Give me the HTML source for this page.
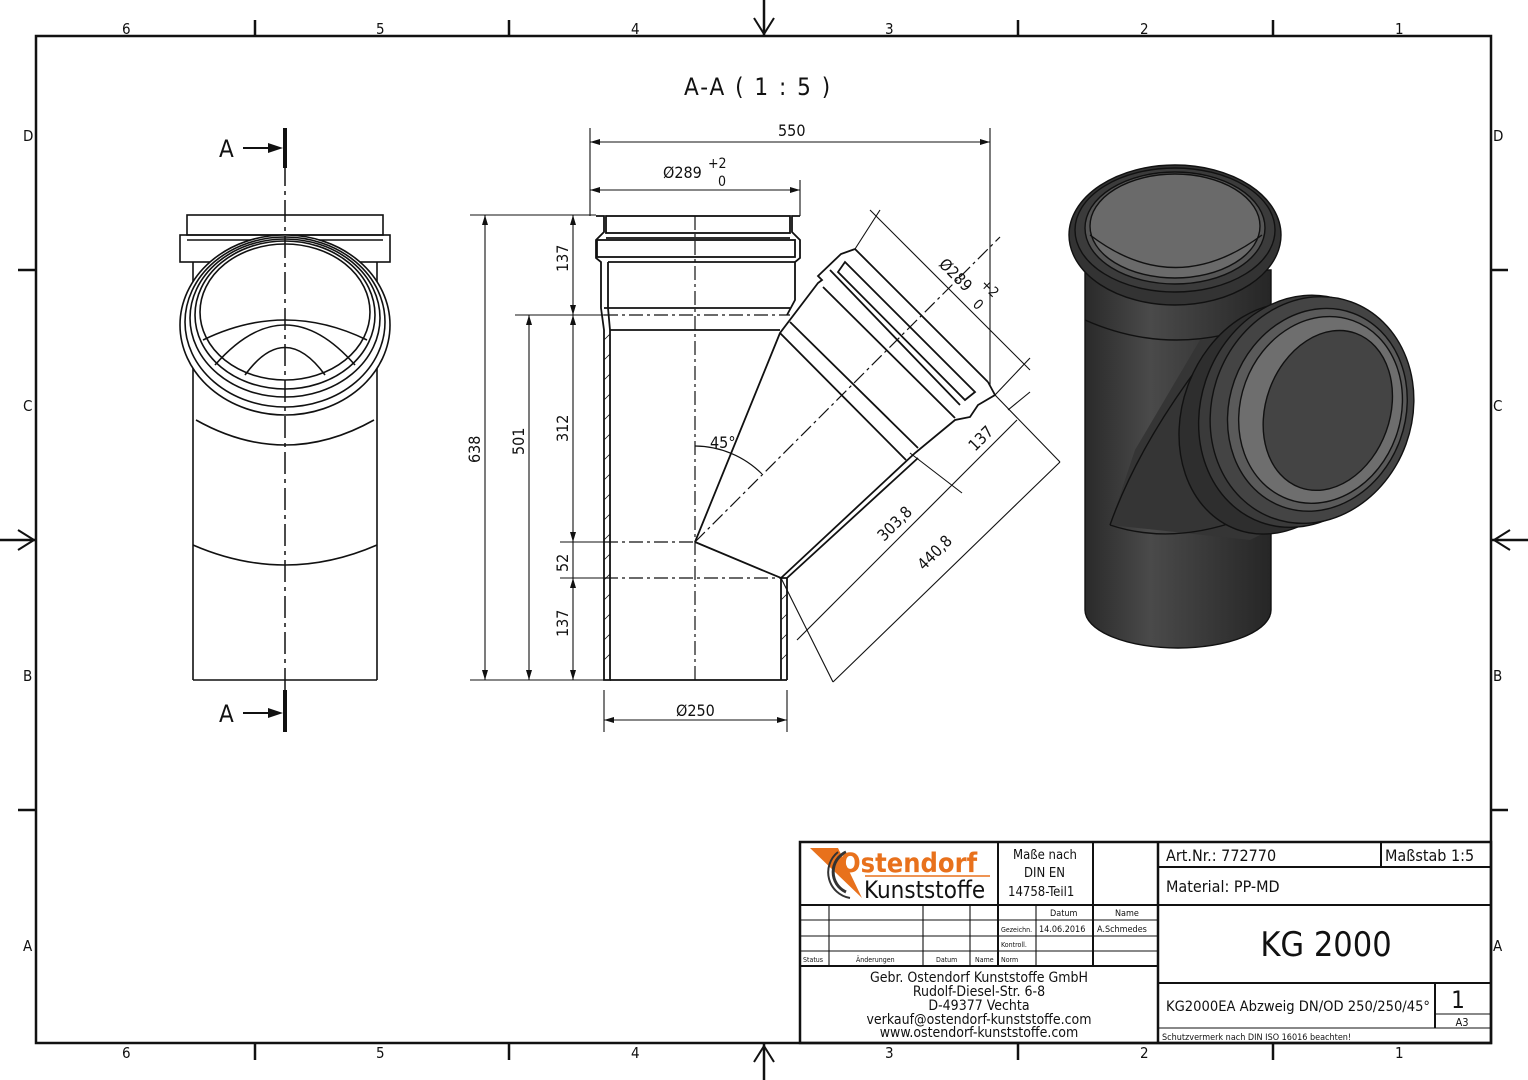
<!DOCTYPE html>
<html><head><meta charset="utf-8"><style>
html,body{margin:0;padding:0;background:#fff}
svg{display:block}
text{font-family:"Liberation Sans Narrow","DejaVu Sans Condensed","Liberation Sans",sans-serif;fill:#111}
</style></head><body>
<svg width="1528" height="1080" viewBox="0 0 1528 1080" xmlns="http://www.w3.org/2000/svg">
<defs>
<linearGradient id="g1" x1="0" x2="1" y1="0" y2="0"><stop offset="0" stop-color="#2a2a2a"/><stop offset="0.35" stop-color="#4a4a4a"/><stop offset="1" stop-color="#262626"/></linearGradient>
</defs>
<rect x="0" y="0" width="1528" height="1080" fill="#fff"/>
<rect x="36" y="36" width="1455" height="1007" fill="none" stroke="#111" stroke-width="2.5"/>
<g stroke="#111" stroke-width="2.5">
<line x1="255" y1="20" x2="255" y2="36"/><line x1="509" y1="20" x2="509" y2="36"/><line x1="1018" y1="20" x2="1018" y2="36"/><line x1="1273" y1="20" x2="1273" y2="36"/>
<line x1="255" y1="1043" x2="255" y2="1060"/><line x1="509" y1="1043" x2="509" y2="1060"/><line x1="1018" y1="1043" x2="1018" y2="1060"/><line x1="1273" y1="1043" x2="1273" y2="1060"/>
<line x1="18" y1="270" x2="36" y2="270"/><line x1="18" y1="810" x2="36" y2="810"/>
<line x1="1491" y1="270" x2="1508" y2="270"/><line x1="1491" y1="810" x2="1508" y2="810"/>
<line x1="764" y1="0" x2="764" y2="36"/><line x1="764" y1="1043" x2="764" y2="1080"/>
<line x1="0" y1="540" x2="36" y2="540"/><line x1="1491" y1="540" x2="1528" y2="540"/>
</g>
<g fill="none" stroke="#111" stroke-width="2">
<path d="M754 18 L764 34 L774 18"/><path d="M754 1062 L764 1046 L774 1062"/>
<path d="M18 530 L34 540 L18 550"/><path d="M1510 530 L1494 540 L1510 550"/>
</g>
<g font-size="15">
<text x="122" y="34">6</text><text x="376" y="34">5</text><text x="631" y="34">4</text><text x="885" y="34">3</text><text x="1140" y="34">2</text><text x="1395" y="34">1</text>
<text x="122" y="1058">6</text><text x="376" y="1058">5</text><text x="631" y="1058">4</text><text x="885" y="1058">3</text><text x="1140" y="1058">2</text><text x="1395" y="1058">1</text>
<text x="23" y="141">D</text><text x="23" y="411">C</text><text x="23" y="681">B</text><text x="23" y="951">A</text>
<text x="1493" y="141">D</text><text x="1493" y="411">C</text><text x="1493" y="681">B</text><text x="1493" y="951">A</text>
</g>
<text x="684" y="95" font-size="24" letter-spacing="2">A-A ( 1 : 5 )</text>

<g fill="none" stroke="#111" stroke-width="1.6">
<rect x="187" y="215" width="196" height="20"/>
<rect x="180" y="235" width="210" height="27"/>
<line x1="187" y1="240" x2="383" y2="240"/>
<line x1="193" y1="262" x2="193" y2="680"/><line x1="377" y1="262" x2="377" y2="680"/>
<line x1="193" y1="680" x2="377" y2="680"/>
<path d="M193 545 Q285 585 377 545"/>
<path d="M196 420 Q285 470 374 420"/>
<ellipse cx="285" cy="325" rx="105" ry="90" fill="#fff"/>
<ellipse cx="285" cy="322" rx="100" ry="85"/>
<ellipse cx="285" cy="318" rx="95" ry="79"/>
<ellipse cx="285" cy="315" rx="90" ry="74"/>
<ellipse cx="285" cy="312" rx="85" ry="68"/>
<path d="M203 340 Q285 300 367 340"/>
<path d="M215 365 Q285 285 355 365"/>
<path d="M245 375 Q285 320 325 375"/>
</g>
<line x1="285" y1="128" x2="285" y2="732" stroke="#111" stroke-width="1.5" stroke-dasharray="22,5,4,5"/>
<g stroke="#111" stroke-width="4"><line x1="285" y1="128" x2="285" y2="168"/><line x1="285" y1="690" x2="285" y2="732"/></g>
<g stroke="#111" stroke-width="2"><line x1="243" y1="148" x2="272" y2="148"/><line x1="243" y1="713" x2="272" y2="713"/></g>
<path d="M283 148 L268 143 L268 153Z M283 713 L268 708 L268 718Z" fill="#111"/>
<text x="219" y="157" font-size="24">A</text><text x="219" y="722" font-size="24">A</text>

<g fill="none" stroke="#111" stroke-width="1.8">
<path d="M596 216 L604 216 L604 232 L596 240 L596 258 L601 262 L601 308 L604 330 L604 680 L610 680 L610 330 L608 308 L608 262"/>
<path d="M800 216 L792 216 L792 232 L800 240 L800 258 L795 262 L795 300 L787 315"/>
<rect x="606" y="216" width="184" height="17"/>
<rect x="597" y="240" width="198" height="17"/>
<line x1="606" y1="238" x2="790" y2="238"/>
<line x1="608" y1="262" x2="795" y2="262"/>
<line x1="604" y1="308" x2="790" y2="308"/>
<line x1="610" y1="330" x2="780" y2="330"/>
<line x1="610" y1="680" x2="787" y2="680"/>
<path d="M781 680 L781 578 L787 578 L787 680"/>
<path d="M695 542 L780 333 L818 283 L822 280 L818 276 L841 254 L855 249"/>
<path d="M695 542 L781 578 L915 453 L955 420 L970 417 L978 405 L995 395 L988 382"/>
<path d="M787 578 L918 458"/>
<path d="M855 249 L988 382"/>
<path d="M845 262 L975 392 L965 400 L838 272 Z"/>
<line x1="830" y1="270" x2="960" y2="405"/>
<line x1="823" y1="287" x2="955" y2="418"/>
<line x1="780" y1="333" x2="906" y2="460"/>
<line x1="790" y1="322" x2="918" y2="448"/>
</g>
<g stroke="#111" stroke-width="1.2" stroke-dasharray="14,4,3,4" fill="none">
<line x1="695" y1="216" x2="695" y2="680"/>
<line x1="695" y1="542" x2="1000" y2="237"/>
<line x1="604" y1="542" x2="695" y2="542"/>
<line x1="604" y1="578" x2="781" y2="578"/>
<line x1="604" y1="315" x2="790" y2="315"/>
</g>
<g stroke="#111" stroke-width="0.8">
<path d="M604 340 l6 -6 M604 360 l6 -6 M604 380 l6 -6 M604 400 l6 -6 M604 420 l6 -6 M604 440 l6 -6 M604 460 l6 -6 M604 480 l6 -6 M604 500 l6 -6 M604 520 l6 -6 M604 540 l6 -6 M604 560 l6 -6 M604 580 l6 -6 M604 600 l6 -6 M604 620 l6 -6 M604 640 l6 -6 M604 660 l6 -6 M781 600 l6 -6 M781 620 l6 -6 M781 640 l6 -6 M781 660 l6 -6"/>
</g>
<path d="M695 446 A96 96 0 0 1 762 474" fill="none" stroke="#111" stroke-width="1.2"/>
<text x="710" y="448" font-size="16">45°</text>
<g stroke="#111" stroke-width="1.1" fill="none">
<line x1="590" y1="128" x2="590" y2="216"/><line x1="990" y1="128" x2="990" y2="385"/>
<line x1="590" y1="142" x2="990" y2="142"/>
<line x1="800" y1="180" x2="800" y2="216"/>
<line x1="590" y1="190" x2="800" y2="190"/>
<line x1="470" y1="215" x2="596" y2="215"/><line x1="470" y1="680" x2="604" y2="680"/>
<line x1="485" y1="215" x2="485" y2="680"/>
<line x1="515" y1="315" x2="604" y2="315"/>
<line x1="529" y1="315" x2="529" y2="680"/>
<line x1="573" y1="215" x2="573" y2="680"/>
<line x1="560" y1="542" x2="604" y2="542"/><line x1="560" y1="578" x2="604" y2="578"/>
<line x1="604" y1="690" x2="604" y2="732"/><line x1="787" y1="690" x2="787" y2="732"/>
<line x1="604" y1="720" x2="787" y2="720"/>
<line x1="870" y1="210" x2="1030" y2="370"/>
<line x1="855" y1="249" x2="880" y2="210"/>
<line x1="995" y1="395" x2="1030" y2="358"/>
<line x1="1060" y1="462" x2="833" y2="682"/>
<line x1="1060" y1="462" x2="995" y2="395"/>
<line x1="833" y1="682" x2="781" y2="578"/>
<line x1="1017" y1="420" x2="797" y2="640"/>
<line x1="910" y1="453" x2="962" y2="493"/>
<line x1="1008" y1="410" x2="1030" y2="392"/>
</g>
<g fill="#111">
<path d="M590 142 l10 -3 v6z M990 142 l-10 -3 v6z M590 190 l10 -3 v6z M800 190 l-10 -3 v6z"/>
<path d="M485 215 l-3 10 h6z M485 680 l-3 -10 h6z M529 315 l-3 10 h6z M529 680 l-3 -10 h6z"/>
<path d="M573 215 l-3 10 h6z M573 315 l-3 -10 h6z M573 315 l-3 10 h6z M573 542 l-3 -10 h6z M573 578 l-3 10 h6z M573 680 l-3 -10 h6z"/>
<path d="M604 720 l10 -3 v6z M787 720 l-10 -3 v6z"/>
</g>
<g font-size="16">
<text x="778" y="136">550</text>
<text x="663" y="178">Ø289</text><text x="708" y="168" font-size="14">+2</text><text x="718" y="186" font-size="14">0</text>
<text x="676" y="716">Ø250</text>
<text transform="translate(480,463) rotate(-90)">638</text>
<text transform="translate(524,455) rotate(-90)">501</text>
<text transform="translate(568,272) rotate(-90)">137</text>
<text transform="translate(568,442) rotate(-90)">312</text>
<text transform="translate(568,572) rotate(-90)">52</text>
<text transform="translate(568,637) rotate(-90)">137</text>
<text transform="translate(938,265) rotate(45)">Ø289</text>
<text transform="translate(980,285) rotate(45)" font-size="14">+2</text>
<text transform="translate(972,305) rotate(45)" font-size="14">0</text>
<text transform="translate(975,452) rotate(-45)">137</text>
<text transform="translate(884,542) rotate(-45)">303,8</text>
<text transform="translate(924,571) rotate(-45)">440,8</text>
</g>

<g stroke="#111" stroke-width="1.4">
<path d="M1085 270 L1085 610 A93 38 0 0 0 1271 610 L1271 270 Z" fill="url(#g1)"/>
<path d="M1135 450 L1200 340 L1300 330 L1330 500 L1250 540 L1110 525 Z" fill="#353535" stroke="none"/>
<path d="M1110 525 Q1140 440 1215 345" fill="none"/>
<path d="M1110 525 Q1170 545 1240 520" fill="none"/>
<ellipse cx="1175" cy="235" rx="106" ry="70" fill="#333"/>
<ellipse cx="1175" cy="230" rx="100" ry="62" fill="#3b3b3b"/>
<ellipse cx="1175" cy="228" rx="90" ry="56" fill="#555"/>
<ellipse cx="1175" cy="226" rx="85" ry="52" fill="#6a6a6a"/>
<path d="M1090 235 Q1175 300 1262 235" fill="none"/>
<path d="M1085 320 Q1175 360 1271 320" fill="none"/>
<g transform="translate(1312,410) rotate(20)">
<ellipse cx="-30" cy="20" rx="95" ry="118" fill="#2e2e2e"/>
<ellipse cx="-10" cy="5" rx="100" ry="118" fill="#3a3a3a"/>
<ellipse cx="0" cy="0" rx="100" ry="115" fill="#444"/>
<ellipse cx="5" cy="-2" rx="88" ry="103" fill="#5a5a5a"/>
<ellipse cx="8" cy="-3" rx="80" ry="95" fill="#6e6e6e"/>
<ellipse cx="15" cy="-5" rx="62" ry="82" fill="#444"/>
</g>
</g>

<g fill="none" stroke="#111">
<rect x="800" y="842" width="691" height="201" stroke-width="2.5"/>
<line x1="1158" y1="842" x2="1158" y2="1043" stroke-width="2.5"/>
<line x1="800" y1="905" x2="1158" y2="905" stroke-width="2"/>
<line x1="800" y1="966" x2="1158" y2="966" stroke-width="2"/>
<g stroke-width="1.1">
<line x1="800" y1="920" x2="1158" y2="920"/><line x1="800" y1="936" x2="1158" y2="936"/><line x1="800" y1="951" x2="1158" y2="951"/>
<line x1="829" y1="905" x2="829" y2="966"/><line x1="923" y1="905" x2="923" y2="966"/><line x1="970" y1="905" x2="970" y2="966"/>
<line x1="1036" y1="905" x2="1036" y2="966"/>
<line x1="1158" y1="1028" x2="1491" y2="1028"/>
<line x1="1435" y1="1014" x2="1491" y2="1014"/>
</g>
<g stroke-width="2">
<line x1="998" y1="842" x2="998" y2="966"/><line x1="1093" y1="842" x2="1093" y2="966"/>
<line x1="1158" y1="867" x2="1491" y2="867"/><line x1="1158" y1="905" x2="1491" y2="905"/><line x1="1158" y1="983" x2="1491" y2="983"/>
<line x1="1381" y1="842" x2="1381" y2="867"/><line x1="1435" y1="983" x2="1435" y2="1028"/>
</g>
</g>
<path d="M810 848 L838 848 L862 898 Z" fill="#e8711c"/>
<path d="M846 852 A22 22 0 0 0 846 892" fill="none" stroke="#333" stroke-width="3"/>
<path d="M838 852 A26 26 0 0 0 850 898" fill="none" stroke="#333" stroke-width="2"/>
<text x="840" y="872" font-size="27" font-weight="bold" style="fill:#e8711c">Ostendorf</text>
<line x1="865" y1="876" x2="990" y2="876" stroke="#e8711c" stroke-width="1.5"/>
<text x="864" y="898" font-size="24">Kunststoffe</text>
<g font-size="13">
<text x="1013" y="859">Maße nach</text><text x="1024" y="877">DIN EN</text><text x="1008" y="896">14758-Teil1</text>
</g>
<g font-size="9">
<text x="1050" y="916">Datum</text><text x="1115" y="916">Name</text>
<text x="1001" y="932" font-size="7">Gezeichn.</text><text x="1039" y="932">14.06.2016</text><text x="1097" y="932">A.Schmedes</text>
<text x="1001" y="947" font-size="7">Kontroll.</text>
<text x="803" y="962" font-size="7">Status</text><text x="856" y="962" font-size="7">Änderungen</text><text x="936" y="962" font-size="7">Datum</text><text x="975" y="962" font-size="7">Name</text><text x="1001" y="962" font-size="7">Norm</text>
</g>
<g font-size="14" text-anchor="middle">
<text x="979" y="982">Gebr. Ostendorf Kunststoffe GmbH</text>
<text x="979" y="996">Rudolf-Diesel-Str. 6-8</text>
<text x="979" y="1010">D-49377 Vechta</text>
<text x="979" y="1024">verkauf@ostendorf-kunststoffe.com</text>
<text x="979" y="1037">www.ostendorf-kunststoffe.com</text>
</g>
<text x="1166" y="861" font-size="16">Art.Nr.: 772770</text>
<text x="1385" y="861" font-size="16">Maßstab 1:5</text>
<text x="1166" y="892" font-size="16">Material: PP-MD</text>
<text x="1326" y="956" font-size="34" text-anchor="middle">KG 2000</text>
<text x="1166" y="1011" font-size="14" textLength="264" lengthAdjust="spacingAndGlyphs">KG2000EA Abzweig DN/OD 250/250/45°</text>
<text x="1458" y="1008" font-size="24" text-anchor="middle">1</text>
<text x="1462" y="1026" font-size="11" text-anchor="middle">A3</text>
<text x="1162" y="1040" font-size="9">Schutzvermerk nach DIN ISO 16016 beachten!</text>
</svg>
</body></html>
